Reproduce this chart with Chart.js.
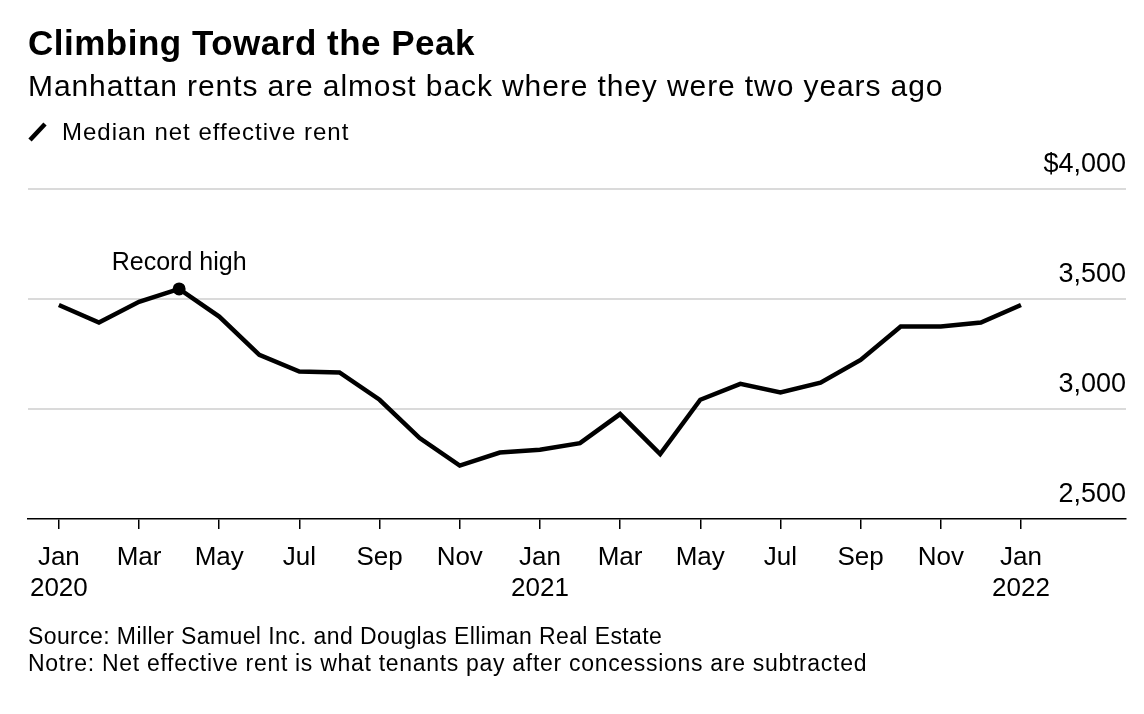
<!DOCTYPE html>
<html>
<head>
<meta charset="utf-8">
<script src="https://cdn.jsdelivr.net/npm/chart.js@4.4.1/dist/chart.umd.min.js"></script>
<style>
  html, body { margin: 0; padding: 0; background: #fff; }
  body { width: 1144px; height: 714px; position: relative; overflow: hidden;
         font-family: "Liberation Sans", Arial, Helvetica, sans-serif; color: #000; }
  #chart { position: absolute; left: 0; top: 0; }
  .txt { position: absolute; left: 28px; white-space: nowrap; }
  #title { top: 25px; font-size: 35px; line-height: 35px; font-weight: bold; letter-spacing: 0.5px; }
  #subtitle { top: 71px; font-size: 30px; line-height: 30px; letter-spacing: 0.9px; }
  #legend { top: 120px; font-size: 24px; line-height: 24px; letter-spacing: 1px; left: 28px; }
  #legend svg { position: absolute; left: 0; top: 2px; }
  #legend span { position: absolute; left: 34px; top: 0; }
  #source { top: 625px; font-size: 23px; line-height: 23px; letter-spacing: 0.4px; }
  #note { top: 652px; font-size: 23px; line-height: 23px; letter-spacing: 0.7px; }
</style>
</head>
<body>
<canvas id="chart" width="1144" height="714"></canvas>
<div class="txt" id="title">Climbing Toward the Peak</div>
<div class="txt" id="subtitle">Manhattan rents are almost back where they were two years ago</div>
<div class="txt" id="legend"><svg width="20" height="20"><line x1="2" y1="18" x2="17" y2="2" stroke="#000" stroke-width="4.5"/></svg><span>Median net effective rent</span></div>
<div class="txt" id="source">Source: Miller Samuel Inc. and Douglas Elliman Real Estate</div>
<div class="txt" id="note">Notre: Net effective rent is what tenants pay after concessions are subtracted</div>
<script>
// ---- data ----
const months = ['Jan 2020','Feb 2020','Mar 2020','Apr 2020','May 2020','Jun 2020','Jul 2020','Aug 2020',
  'Sep 2020','Oct 2020','Nov 2020','Dec 2020','Jan 2021','Feb 2021','Mar 2021','Apr 2021','May 2021',
  'Jun 2021','Jul 2021','Aug 2021','Sep 2021','Oct 2021','Nov 2021','Dec 2021','Jan 2022'];
const rent = [3473, 3393, 3487, 3546, 3420, 3246, 3170, 3166, 3042, 2868, 2743, 2802, 2815,
  2845, 2977, 2795, 3042, 3114, 3075, 3120, 3223, 3375, 3375, 3393, 3473];
const xTickIndex = [0, 2, 4, 6, 8, 10, 12, 14, 16, 18, 20, 22, 24];
const xTickLabels = [['Jan','2020'],['Mar'],['May'],['Jul'],['Sep'],['Nov'],['Jan','2021'],
  ['Mar'],['May'],['Jul'],['Sep'],['Nov'],['Jan','2022']];
const yTicks = [2500, 3000, 3500, 4000];
const yTickLabels = ['2,500', '3,000', '3,500', '$4,000'];
const annotationText = 'Record high';

const peakIndex = rent.indexOf(Math.max(...rent));
const FONT = '"Liberation Sans", Arial, Helvetica, sans-serif';

const annotationPlugin = {
  id: 'recordHigh',
  afterDatasetsDraw(chart) {
    const ctx = chart.ctx;
    const x = chart.scales.x.getPixelForValue(peakIndex);
    const y = chart.scales.y.getPixelForValue(rent[peakIndex]);
    ctx.save();
    ctx.font = '25px ' + FONT;
    ctx.fillStyle = '#000';
    ctx.textAlign = 'center';
    ctx.textBaseline = 'middle';
    ctx.fillText(annotationText, x, y - 26);
    ctx.restore();
  }
};

new Chart(document.getElementById('chart'), {
  type: 'line',
  data: {
    datasets: [{
      label: 'Median net effective rent',
      data: rent.map((v, i) => ({ x: i, y: v })),
      borderColor: '#000',
      backgroundColor: '#000',
      borderWidth: 4.5,
      borderJoinStyle: 'miter',
      tension: 0,
      pointRadius: ctx => ctx.dataIndex === peakIndex ? 6.5 : 0,
      pointBackgroundColor: '#000',
      pointBorderWidth: 0
    }]
  },
  options: {
    responsive: false,
    animation: false,
    devicePixelRatio: 1,
    layout: { padding: { left: 28, right: 18, top: 189, bottom: 105 } },
    plugins: { legend: { display: false }, title: { display: false }, tooltip: { enabled: false } },
    scales: {
      x: {
        type: 'linear',
        min: -0.77,
        max: 26.62,
        afterBuildTicks: s => { s.ticks = xTickIndex.map(v => ({ value: v })); },
        afterFit: s => { s.height = 90; },
        ticks: {
          autoSkip: false,
          maxRotation: 0,
          padding: 13,
          color: '#000',
          font: { family: FONT, size: 26, lineHeight: 1.2 },
          callback: (v) => { const k = xTickIndex.indexOf(v); return k >= 0 ? xTickLabels[k] : ''; }
        },
        grid: { drawOnChartArea: false, drawTicks: true, tickLength: 10, color: '#000', lineWidth: 1.5 },
        border: { display: true, color: '#000', width: 1.5 }
      },
      y: {
        position: 'right',
        min: 2500,
        max: 4000,
        afterBuildTicks: s => { s.ticks = yTicks.map(v => ({ value: v })); },
        afterFit: s => { s.width = 0; },
        ticks: {
          mirror: true,
          padding: 0,
          labelOffset: -24,
          color: '#000',
          font: { family: FONT, size: 27 },
          callback: (v) => { const k = yTicks.indexOf(v); return k >= 0 ? yTickLabels[k] : ''; }
        },
        grid: {
          drawTicks: false,
          color: c => (c.tick && c.tick.value === 2500) ? 'rgba(0,0,0,0)' : '#dadada',
          lineWidth: 2
        },
        border: { display: false }
      }
    }
  },
  plugins: [annotationPlugin]
});
</script>
</body>
</html>
